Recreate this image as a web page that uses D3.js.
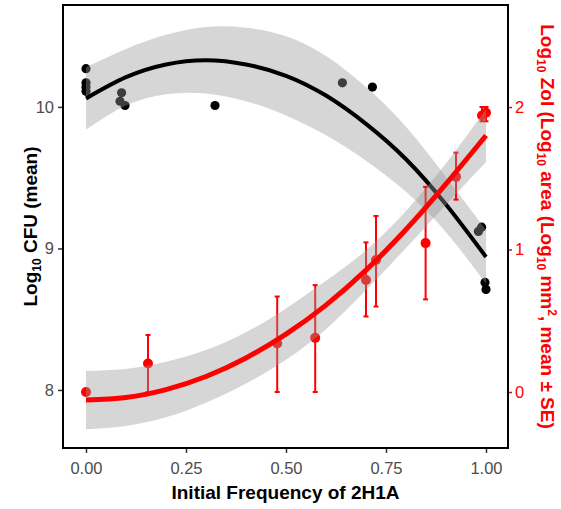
<!DOCTYPE html>
<html>
<head>
<meta charset="utf-8">
<script src="https://cdn.jsdelivr.net/npm/d3@7"></script>
<style>
  body { margin: 0; background: #fff; }
  svg text { font-family: "Liberation Sans", Arial, sans-serif; }
</style>
</head>
<body>
<div class="canvas"></div>
<script>
// CFU points (left axis)
const cfuX = [0, 0, 0, 0, 0.089, 0.085, 0.0975, 0.3225, 0.641, 0.716, 0.981, 0.989, 0.9975, 1.0];
const cfuY = [10.27, 10.17, 10.14, 10.11, 10.10, 10.04, 10.01, 10.01, 10.17, 10.14, 9.12, 9.15, 8.76, 8.71];

// fitted curve for CFU and its band half-width
const fitX = [0, 0.1, 0.2, 0.3, 0.4, 0.5, 0.6, 0.7, 0.8, 0.9, 1.0];
const cfuFit = [10.06, 10.21, 10.30, 10.33, 10.30, 10.22, 10.08, 9.88, 9.63, 9.31, 8.94];
const cfuSE = [0.22, 0.20, 0.21, 0.235, 0.26, 0.28, 0.28, 0.26, 0.23, 0.195, 0.19];

// ZoI points (right axis), mean +- SE
const zolX = [0, 0.155, 0.478, 0.573, 0.70, 0.725, 0.849, 0.925, 0.99, 1.0];
const zolY = [0, 0.20, 0.34, 0.38, 0.786, 0.926, 1.045, 1.51, 1.94, 1.96];
const zolHiE = [0, 0.40, 0.67, 0.75, 1.05, 1.235, 1.44, 1.68, 2.0, 2.0];
const zolLoE = [0, 0.0, 0.0, 0.0, 0.53, 0.60, 0.65, 1.35, 1.90, 1.90];

// fitted curve for ZoI and its band half-width
const zolFit = [-0.056, -0.038, 0.017, 0.109, 0.239, 0.406, 0.61, 0.855, 1.14, 1.46, 1.80];
const zolSE = [0.205, 0.20, 0.195, 0.185, 0.18, 0.18, 0.17, 0.14, 0.13, 0.145, 0.185];

const xTicks = [0, 0.25, 0.5, 0.75, 1];
const leftTicks = [8, 9, 10];
const rightTicks = [0, 1, 2];

const panel = { left: 63, right: 508, top: 5, bottom: 448 };

const svg = d3.select('.canvas')
    .append('svg')
    .attr('width', 561)
    .attr('height', 509);

const x = d3.scaleLinear().domain([-0.0575, 1.055]).range([panel.left, panel.right]);
const yL = d3.scaleLinear().domain([7.59, 10.72]).range([panel.bottom, panel.top]);
const yR = d3.scaleLinear().domain([-0.393, 2.716]).range([panel.bottom, panel.top]);

const graph = svg.append('g');

// black points first, smooth drawn over them (ggplot layer order)
graph.selectAll('circle.cfu')
    .data(cfuX.map((d, i) => ({ x: d, y: cfuY[i] })))
    .enter().append('circle')
        .attr('class', 'cfu')
        .attr('cx', d => x(d.x))
        .attr('cy', d => yL(d.y))
        .attr('r', 4.6)
        .attr('fill', '#000');

const cfuRows = fitX.map((d, i) => ({ x: d, fit: cfuFit[i], lo: cfuFit[i] - cfuSE[i], hi: cfuFit[i] + cfuSE[i] }));

graph.append('path')
    .datum(cfuRows)
    .attr('fill', '#999999')
    .attr('fill-opacity', 0.4)
    .attr('d', d3.area().curve(d3.curveNatural)
        .x(d => x(d.x)).y0(d => yL(d.lo)).y1(d => yL(d.hi)));

graph.append('path')
    .datum(cfuRows)
    .attr('fill', 'none')
    .attr('stroke', '#000')
    .attr('stroke-width', 4)
    .attr('d', d3.line().curve(d3.curveNatural).x(d => x(d.x)).y(d => yL(d.fit)));

// red points and error bars
const zolRows = zolX.map((d, i) => ({ x: d, y: zolY[i], hi: zolHiE[i], lo: zolLoE[i] }));

const bars = graph.selectAll('g.err')
    .data(zolRows.filter(d => d.hi > d.lo))
    .enter().append('g')
        .attr('class', 'err')
        .attr('stroke', '#ff0000')
        .attr('stroke-width', 2);
bars.append('line')
    .attr('x1', d => x(d.x)).attr('x2', d => x(d.x))
    .attr('y1', d => yR(d.lo)).attr('y2', d => yR(d.hi));
bars.append('line')
    .attr('x1', d => x(d.x) - 2.5).attr('x2', d => x(d.x) + 2.5)
    .attr('y1', d => yR(d.hi)).attr('y2', d => yR(d.hi));
bars.append('line')
    .attr('x1', d => x(d.x) - 2.5).attr('x2', d => x(d.x) + 2.5)
    .attr('y1', d => yR(d.lo)).attr('y2', d => yR(d.lo));

graph.selectAll('circle.zol')
    .data(zolRows)
    .enter().append('circle')
        .attr('class', 'zol')
        .attr('cx', d => x(d.x))
        .attr('cy', d => yR(d.y))
        .attr('r', 5)
        .attr('fill', '#ff0000');

const zolFitRows = fitX.map((d, i) => ({ x: d, fit: zolFit[i], lo: zolFit[i] - zolSE[i], hi: zolFit[i] + zolSE[i] }));

graph.append('path')
    .datum(zolFitRows)
    .attr('fill', '#999999')
    .attr('fill-opacity', 0.4)
    .attr('d', d3.area().curve(d3.curveNatural)
        .x(d => x(d.x)).y0(d => yR(d.lo)).y1(d => yR(d.hi)));

graph.append('path')
    .datum(zolFitRows)
    .attr('fill', 'none')
    .attr('stroke', '#ff0000')
    .attr('stroke-width', 5)
    .attr('d', d3.line().curve(d3.curveNatural).x(d => x(d.x)).y(d => yR(d.fit)));

// panel border
svg.append('rect')
    .attr('x', panel.left).attr('y', panel.top)
    .attr('width', panel.right - panel.left)
    .attr('height', panel.bottom - panel.top)
    .attr('fill', 'none')
    .attr('stroke', '#000')
    .attr('stroke-width', 2);

// axes
const xAxis = svg.append('g')
    .attr('transform', `translate(0, ${panel.bottom + 1})`)
    .call(d3.axisBottom(x).tickValues(xTicks).tickSize(4).tickSizeOuter(0).tickPadding(9)
        .tickFormat(d3.format('.2f')));

const leftAxis = svg.append('g')
    .attr('transform', `translate(${panel.left - 1}, 0)`)
    .call(d3.axisLeft(yL).tickValues(leftTicks).tickSize(4).tickSizeOuter(0).tickPadding(4)
        .tickFormat(d3.format('d')));

const rightAxis = svg.append('g')
    .attr('transform', `translate(${panel.right + 1}, 0)`)
    .call(d3.axisRight(yR).tickValues(rightTicks).tickSize(3).tickSizeOuter(0).tickPadding(3)
        .tickFormat(d3.format('d')));

[xAxis, leftAxis, rightAxis].forEach(a => {
    a.select('.domain').remove();
    a.selectAll('text').attr('font-size', 16.5).attr('font-family', '"Liberation Sans", Arial, sans-serif');
});
xAxis.selectAll('line').attr('stroke', '#333').attr('stroke-width', 1.5);
xAxis.selectAll('text').attr('fill', '#4d4d4d');
leftAxis.selectAll('line').attr('stroke', '#333').attr('stroke-width', 1.5);
leftAxis.selectAll('text').attr('fill', '#4d4d4d');
rightAxis.selectAll('line').attr('stroke', '#ff0000').attr('stroke-width', 1.5);
rightAxis.selectAll('text').attr('fill', '#ff0000');

// titles
svg.append('text')
    .attr('x', (panel.left + panel.right) / 2)
    .attr('y', 499)
    .attr('text-anchor', 'middle')
    .attr('font-size', 19)
    .attr('font-weight', 'bold')
    .attr('fill', '#000')
    .text('Initial Frequency of 2H1A');

const leftTitle = svg.append('text')
    .attr('transform', `translate(37, ${(panel.top + panel.bottom) / 2}) rotate(-90)`)
    .attr('text-anchor', 'middle')
    .attr('font-size', 19)
    .attr('font-weight', 'bold')
    .attr('fill', '#000');
leftTitle.append('tspan').text('Log');
leftTitle.append('tspan').attr('font-size', 12).attr('dy', 4).text('10');
leftTitle.append('tspan').attr('dy', -4).text(' CFU (mean)');

const rightTitle = svg.append('text')
    .attr('transform', `translate(541, ${(panel.top + panel.bottom) / 2}) rotate(90)`)
    .attr('text-anchor', 'middle')
    .attr('font-size', 19)
    .attr('font-weight', 'bold')
    .attr('fill', '#ff0000');
const sub = (t) => { rightTitle.append('tspan').text('Log');
    rightTitle.append('tspan').attr('font-size', 12).attr('dy', 4).text('10');
    rightTitle.append('tspan').attr('dy', -4).text(t); };
sub(' ZoI (');
sub(' area (');
sub(' mm');
rightTitle.append('tspan').attr('font-size', 12).attr('dy', -7).text('2');
rightTitle.append('tspan').attr('dy', 7).text(', mean \u00b1 SE)');
</script>
</body>
</html>
